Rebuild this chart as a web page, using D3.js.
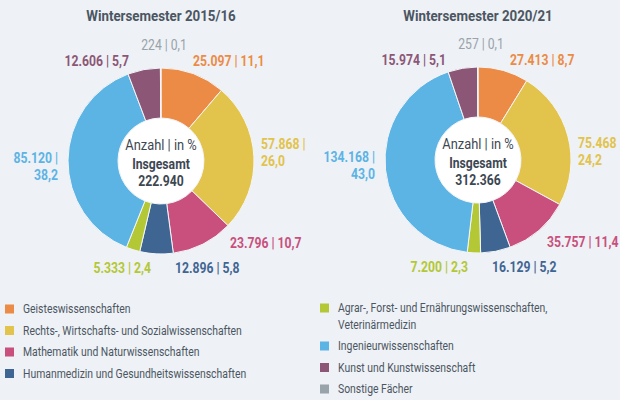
<!DOCTYPE html>
<html lang="de">
<head>
<meta charset="utf-8">
<title>Studierende nach Fächergruppen</title>
<script src="https://d3js.org/d3.v7.min.js"></script>
<style>
  html, body { margin: 0; padding: 0; background: #eef1f5; }
  svg { display: block; font-family: "Roboto", "Liberation Sans", sans-serif; }
</style>
</head>
<body>
<script>
// Fächergruppen (Reihenfolge im Uhrzeigersinn ab 12 Uhr)
var categories = [
  "Geisteswissenschaften",
  "Rechts-, Wirtschafts- und Sozialwissenschaften",
  "Mathematik und Naturwissenschaften",
  "Humanmedizin und Gesundheitswissenschaften",
  "Agrar-, Forst- und Ernährungswissenschaften,\nVeterinärmedizin",
  "Ingenieurwissenschaften",
  "Kunst und Kunstwissenschaft",
  "Sonstige Fächer"
];
var colors = ["#ec8b45", "#e2c34c", "#c9507d", "#3f6593", "#b4c835", "#5cb4e5", "#8c5777", "#98a3aa"];

var titles = ["Wintersemester 2015/16", "Wintersemester 2020/21"];
var values2015 = [25097, 57868, 23796, 12896, 5333, 85120, 12606, 224];
var pct2015 = ["11,1", "26,0", "10,7", "5,8", "2,4", "38,2", "5,7", "0,1"];
var values2020 = [27413, 75468, 35757, 16129, 7200, 134168, 15974, 257];
var pct2020 = ["8,7", "24,2", "11,4", "5,2", "2,3", "43,0", "5,1", "0,1"];

// Beschriftungslage je Fächergruppe relativ zur Kreismitte (Layout, keine Daten)
var labelLayout = [
  { anchor: "start",  dx: 32,   dy: -100, wrap: false },
  { anchor: "start",  dx: 100,  dy: -8,   wrap: true },
  { anchor: "start",  dx: 69,   dy: 82,   wrap: false },
  { anchor: "start",  dx: 14,   dy: 107,  wrap: false },
  { anchor: "end",    dx: -10,  dy: 107,  wrap: false },
  { anchor: "end",    dx: -103, dy: 6,    wrap: true },
  { anchor: "end",    dx: -32,  dy: -100, wrap: false },
  { anchor: "middle", dx: 3,    dy: -116, wrap: false }
];

var width = 620, height = 400;
var outerR = 93, innerR = 43;
var textColor = "#3d4752";

var fmt = d3.formatLocale({ decimal: ",", thousands: ".", grouping: [3], currency: ["", "€"] }).format(",d");

var charts = [
  { title: titles[0], values: values2015, pct: pct2015, cx: 161, cy: 161 },
  { title: titles[1], values: values2020, pct: pct2020, cx: 478, cy: 160 }
];

var svg = d3.select("body").append("svg")
  .attr("width", width)
  .attr("height", height);

svg.append("rect").attr("width", width).attr("height", height).attr("fill", "#eef1f5");

// schmale Schrift nachbilden: waagerecht stauchen
function at(x, y, s) {
  return "translate(" + x + "," + y + ") scale(" + s + ",1)";
}

var pie = d3.pie().sort(null).value(function(d) { return d.value; });
var arc = d3.arc().innerRadius(innerR).outerRadius(outerR);

charts.forEach(function(c) {
  var rows = categories.map(function(name, i) {
    return { name: name, value: c.values[i], pct: c.pct[i], color: colors[i], layout: labelLayout[i] };
  });
  var total = d3.sum(c.values);

  svg.append("text")
    .attr("transform", at(c.cx, 16, 0.86))
    .attr("text-anchor", "middle")
    .attr("dominant-baseline", "central")
    .attr("font-size", 15.5)
    .attr("font-weight", "bold")
    .attr("fill", "#4b5662")
    .text(c.title);

  var g = svg.append("g").attr("transform", "translate(" + c.cx + "," + c.cy + ")");

  g.selectAll("path")
    .data(pie(rows))
    .enter()
    .append("path")
    .attr("d", arc)
    .attr("fill", function(d) { return d.data.color; })
    .attr("stroke", "#f4f6f8")
    .attr("stroke-width", 1);

  g.append("circle").attr("r", innerR - 0.5).attr("fill", "#ffffff");

  // Mitte
  g.append("text").attr("transform", at(0, -16, 0.92)).attr("text-anchor", "middle").attr("dominant-baseline", "central")
    .attr("font-size", 14).attr("fill", textColor).text("Anzahl | in %");
  g.append("text").attr("transform", at(0, 3, 0.84)).attr("text-anchor", "middle").attr("dominant-baseline", "central")
    .attr("font-size", 14.5).attr("font-weight", "bold").attr("fill", textColor).text("Insgesamt");
  g.append("text").attr("transform", at(0, 20, 0.84)).attr("text-anchor", "middle").attr("dominant-baseline", "central")
    .attr("font-size", 14.5).attr("font-weight", "bold").attr("fill", textColor).text(fmt(total));

  // Werte
  var lab = g.selectAll(".lab")
    .data(rows)
    .enter()
    .append("text")
    .attr("class", "lab")
    .attr("transform", function(d) { return at(d.layout.dx, d.layout.dy, 0.87); })
    .attr("text-anchor", function(d) { return d.layout.anchor; })
    .attr("font-size", 14)
    .attr("font-weight", function(d, i) { return i === categories.length - 1 ? "normal" : "bold"; })
    .attr("fill", function(d) { return d.color; });

  lab.each(function(d) {
    var t = d3.select(this);
    if (d.layout.wrap) {
      t.append("tspan").attr("x", 0).attr("y", -8.5).attr("dominant-baseline", "central")
        .text(fmt(d.value) + " |");
      t.append("tspan").attr("x", 0).attr("y", 8.5).attr("dominant-baseline", "central")
        .text(d.pct);
    } else {
      t.append("tspan").attr("x", 0).attr("y", 0).attr("dominant-baseline", "central")
        .text(fmt(d.value) + " | " + d.pct);
    }
  });
});

// Legende
var legendCols = [{ x: 5, y: 309 }, { x: 320, y: 308 }];
var yPos = [];
[0, 1].forEach(function(col) {
  var y = legendCols[col].y;
  for (var i = col * 4; i < col * 4 + 4; i++) {
    yPos[i] = { x: legendCols[col].x, y: y };
    y += 21.5 + (categories[i].split("\n").length - 1) * 16.5;
  }
});

var leg = svg.selectAll(".leg")
  .data(categories)
  .enter()
  .append("g")
  .attr("class", "leg")
  .attr("transform", function(d, i) { return "translate(" + yPos[i].x + "," + yPos[i].y + ")"; });

leg.append("rect")
  .attr("x", 0)
  .attr("y", -4.5)
  .attr("width", 9)
  .attr("height", 9)
  .attr("fill", function(d, i) { return colors[i]; });

leg.append("text")
  .attr("transform", at(18, 0, 0.8))
  .attr("font-size", 13)
  .attr("fill", "#4b5662")
  .each(function(d) {
    var t = d3.select(this);
    d.split("\n").forEach(function(line, j) {
      t.append("tspan").attr("x", 0).attr("y", j * 16.5).attr("dominant-baseline", "central").text(line);
    });
  });
</script>
</body>
</html>
